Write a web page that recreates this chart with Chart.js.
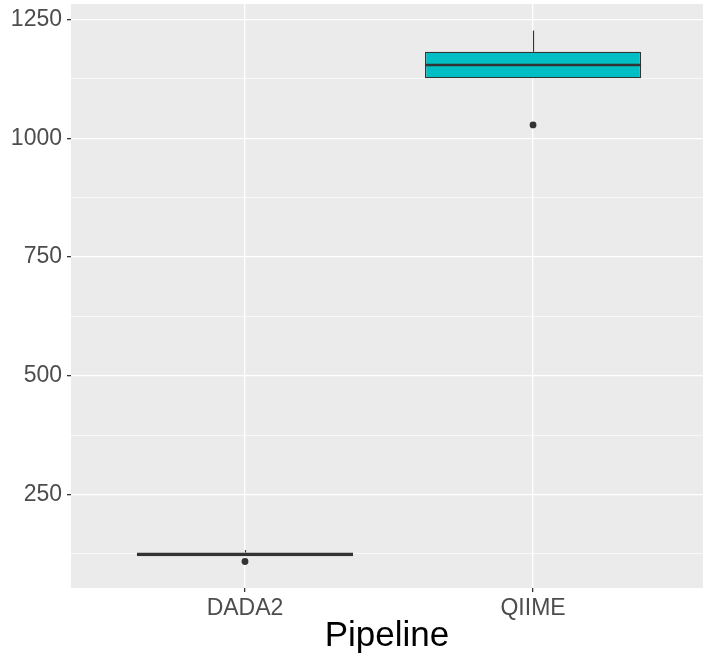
<!DOCTYPE html>
<html><head><meta charset="utf-8">
<script src="https://cdn.jsdelivr.net/npm/chart.js@4/dist/chart.umd.min.js"></script>
<style>html,body{margin:0;padding:0;background:#fff}#wrap{width:703px;height:660px}</style>
</head><body><div id="wrap"><canvas id="c" width="703" height="660"></canvas></div>
<script>
// ---- data ----
const categories = ['DADA2', 'QIIME'];
const lowerWhisker = [120, 1126];
const q1 = [120, 1126];
const median = [124, 1154];
const q3 = [128, 1182];
const upperWhisker = [133, 1226.5];
const outliers = [[109], [1028]];
const boxFill = ['#F8766D', '#00BFC4'];
const yMajorTicks = [250, 500, 750, 1000, 1250];
const yMinorTicks = [125, 375, 625, 875, 1125];
const axisTitle = 'Pipeline';

const FONT = "'Liberation Sans', Arial, Helvetica, sans-serif";
const isMajor = v => yMajorTicks.includes(v);

const bgPlugin = {
  id: 'panelBg',
  beforeDraw(chart) {
    const {ctx, chartArea: a} = chart;
    ctx.save();
    ctx.fillStyle = '#EBEBEB';
    ctx.fillRect(a.left, a.top, a.right - a.left, a.bottom - a.top);
    ctx.restore();
  }
};

const boxPlugin = {
  id: 'boxParts',
  beforeDatasetsDraw(chart) {
    const {ctx} = chart;
    const xs = chart.scales.x, ys = chart.scales.y;
    ctx.save();
    ctx.strokeStyle = '#333333';
    ctx.lineWidth = 1.2;
    categories.forEach((c, i) => {
      const x = Math.round(xs.getPixelForValue(i + 1)) + 0.5;
      ctx.beginPath();
      ctx.moveTo(x, ys.getPixelForValue(q3[i]));
      ctx.lineTo(x, ys.getPixelForValue(upperWhisker[i]));
      ctx.moveTo(x, ys.getPixelForValue(q1[i]));
      ctx.lineTo(x, ys.getPixelForValue(lowerWhisker[i]));
      ctx.stroke();
    });
    ctx.restore();
  },
  afterDatasetsDraw(chart) {
    const {ctx} = chart;
    const ys = chart.scales.y;
    const meta = chart.getDatasetMeta(0);
    ctx.save();
    ctx.strokeStyle = '#333333';
    ctx.lineWidth = 2.6;
    meta.data.forEach((bar, i) => {
      const y = ys.getPixelForValue(median[i]);
      ctx.beginPath();
      ctx.moveTo(bar.x - bar.width / 2, y);
      ctx.lineTo(bar.x + bar.width / 2, y);
      ctx.stroke();
    });
    ctx.restore();
  }
};

const outlierPoints = [];
outliers.forEach((arr, i) => arr.forEach(v => outlierPoints.push({x: i + 1, y: v})));

new Chart(document.getElementById('c'), {
  type: 'bar',
  data: {
    datasets: [
      {
        type: 'bar',
        data: categories.map((c, i) => ({x: i + 1, y: [q1[i], q3[i]]})),
        backgroundColor: boxFill,
        borderColor: '#333333',
        borderWidth: 1.3,
        borderSkipped: false,
        categoryPercentage: 1,
        barPercentage: 0.75,
        order: 2
      },
      {
        type: 'scatter',
        data: outlierPoints,
        pointRadius: 3.4,
        pointBackgroundColor: '#333333',
        pointBorderWidth: 0,
        showLine: false,
        order: 1
      }
    ]
  },
  plugins: [bgPlugin, boxPlugin],
  options: {
    responsive: false,
    devicePixelRatio: 1,
    animation: false,
    layout: {autoPadding: false, padding: {top: 4, right: 0, left: 0, bottom: 0}},
    plugins: {legend: {display: false}, tooltip: {enabled: false}},
    scales: {
      x: {
        type: 'linear',
        offset: false,
        min: 0.396,
        max: 2.59,
        afterBuildTicks: s => { s.ticks = categories.map((c, i) => ({value: i + 1})); },
        afterFit: s => { s.height = 72; s.paddingLeft = 0; s.paddingRight = 0; },
        border: {display: false},
        grid: {offset: false, color: '#FFFFFF', lineWidth: 1.3, tickColor: '#333333', tickLength: 4},
        ticks: {
          autoSkip: false, maxRotation: 0, padding: 3,
          color: '#4D4D4D', font: {family: FONT, size: 23},
          callback: v => categories[Math.round(v) - 1]
        },
        title: {display: true, text: axisTitle, color: '#000000',
          font: {family: FONT, size: 35, lineHeight: 1.2}, padding: {top: 0, bottom: 3}}
      },
      y: {
        type: 'linear',
        min: 53.2,
        max: 1282.5,
        afterBuildTicks: s => {
          s.ticks = yMajorTicks.concat(yMinorTicks).sort((a, b) => a - b).map(v => ({value: v}));
        },
        afterFit: s => { s.width = 71; s.paddingTop = 0; s.paddingBottom = 0; },
        border: {display: false},
        grid: {
          color: '#FFFFFF',
          lineWidth: c => isMajor(c.tick.value) ? 1.3 : 0.65,
          tickColor: c => isMajor(c.tick.value) ? '#333333' : 'rgba(0,0,0,0)',
          tickLength: 4
        },
        ticks: {
          autoSkip: false, padding: 5,
          color: '#4D4D4D', font: {family: FONT, size: 23},
          callback: v => isMajor(v) ? String(v) : ''
        }
      }
    }
  }
});
</script>
</body></html>
